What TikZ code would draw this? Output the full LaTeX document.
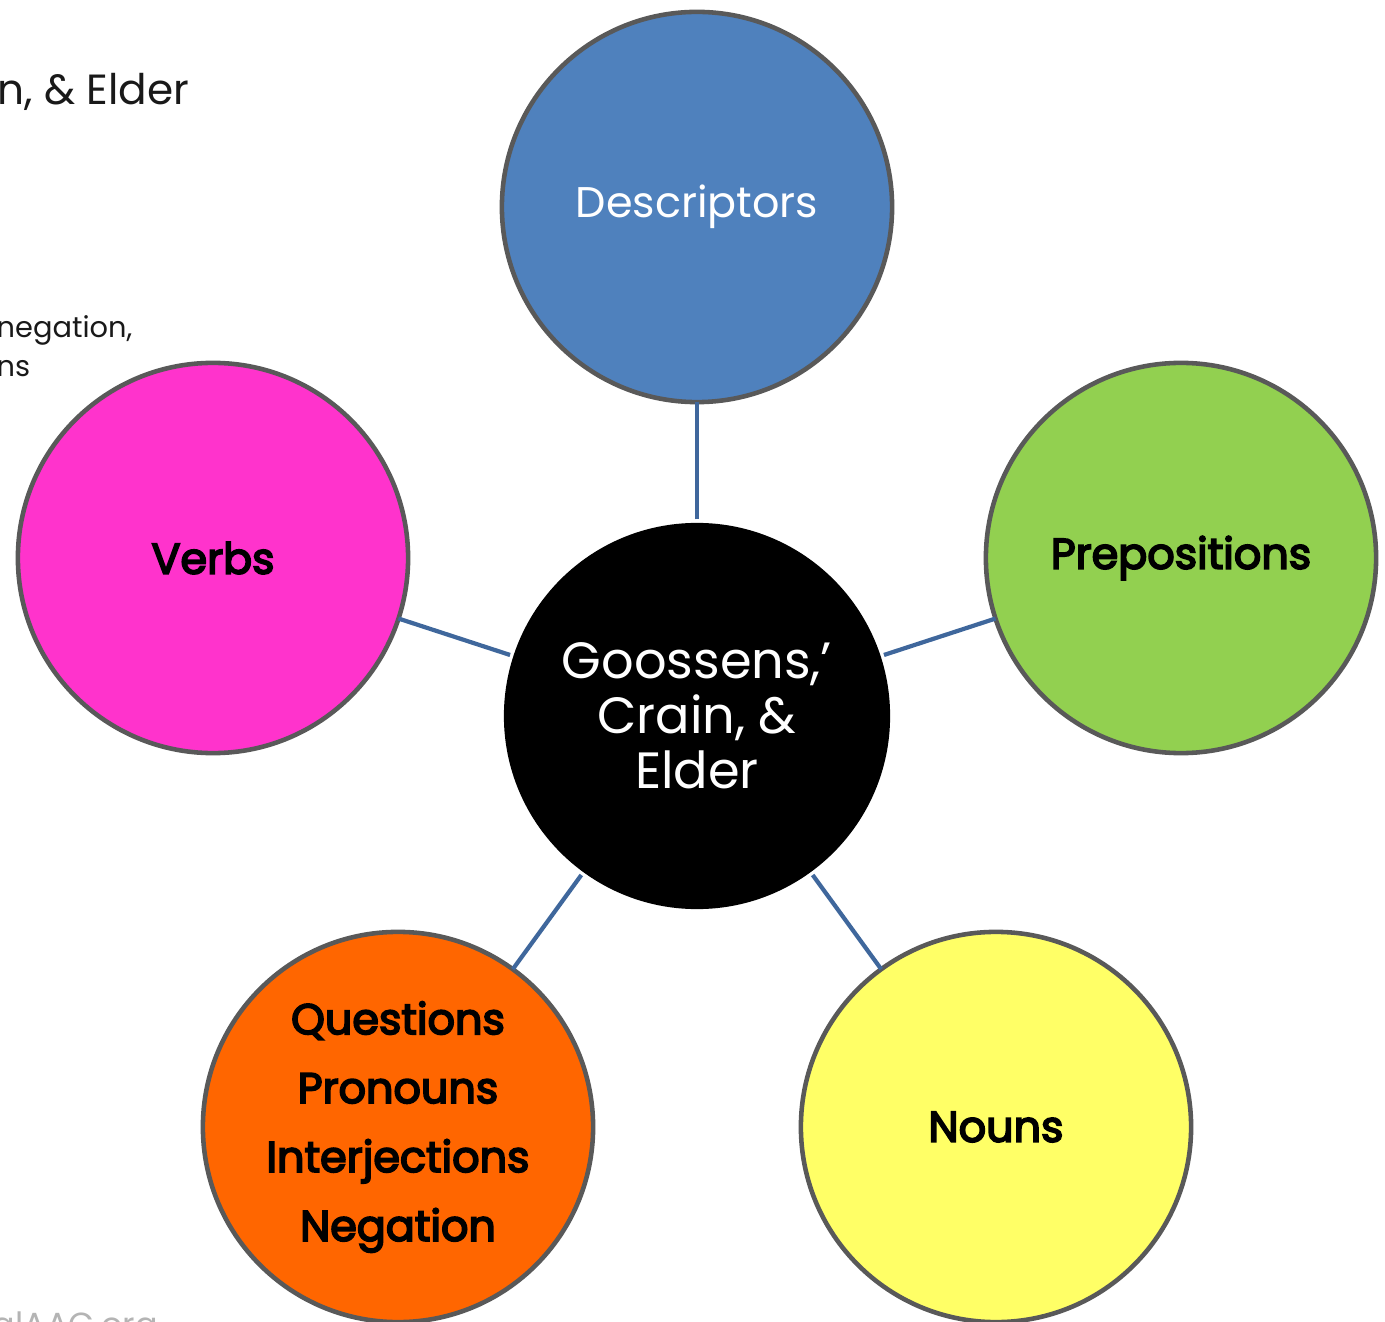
\documentclass[tikz,border=0pt]{standalone}
\usepackage{fontspec}
\setmainfont{Poppins}
\usepackage{xcolor}
\usetikzlibrary{positioning}
\definecolor{ringgrey}{HTML}{595959}
\definecolor{linkblue}{HTML}{3F679C}
\definecolor{descblue}{HTML}{4F81BD}
\definecolor{verbpink}{HTML}{FF33CC}
\definecolor{prepgreen}{HTML}{92D050}
\definecolor{questorange}{HTML}{FF6600}
\definecolor{nounyellow}{HTML}{FFFF66}
\definecolor{fadegrey}{HTML}{B4B4B4}
\newcommand\heavytext[1]{\special{pdf:code 0 0 0 RG 2 Tr 0.5 w}#1\special{pdf:code 0 Tr}}

\begin{document}
\begin{tikzpicture}[x=0.01cm,y=-0.01cm,
        bubble/.style={circle,draw=ringgrey,line width=1.3pt,minimum size=3.9cm,inner sep=0pt,outer sep=0pt,align=center,font=\fontsize{12.2}{19.6}\selectfont},
        hub/.style={circle,fill=black,minimum size=3.86cm,inner sep=0pt,outer sep=0pt,align=center,text=white,font=\fontsize{14.5}{15.6}\selectfont},
        link/.style={draw=linkblue,line width=1.2pt,shorten <=1pt}]
        \useasboundingbox (0,0) rectangle (1385,1322);
        \clip (0,0) rectangle (1385,1322);

        % bits of the slide behind
        \node[anchor=base west,inner sep=0pt,text=black!90,font=\fontsize{12}{12}\selectfont] (title) at (-3,105) {n, \& Elder};
        \node[anchor=base west,inner sep=0pt,text=black!90,font=\fontsize{8.2}{8.2}\selectfont] (notes) at (-4,338) {negation,};
        \node[anchor=base west,inner sep=0pt,text=black!90,font=\fontsize{8.2}{8.2}\selectfont] (notes2) at (-4,377) {ns};
        \node[anchor=base west,inner sep=0pt,text=fadegrey,font=\fontsize{9.5}{9.5}\selectfont] (site) at (-8,1336) {alAAC.org};

        \node[hub] (gce) at (697,716) {Goossens,’\\Crain, \&\\Elder};

        \node[bubble,fill=descblue,text=white] (desc) at (697,207) {Descriptors};
        \node[bubble,fill=verbpink] (verbs) at (213,558) {\heavytext{Verbs}};
        \node[bubble,fill=prepgreen] (preps) at (1181,558) {\heavytext{Prepositions}};
        \node[bubble,fill=questorange] (quest) at (398,1127) {};
        \node[align=center,inner sep=0pt,font=\fontsize{12.2}{19.6}\selectfont] (questtext) at (quest) {\heavytext{Questions}\\\heavytext{Pronouns}\\\heavytext{Interjections}\\\heavytext{Negation}};
        \node[bubble,fill=nounyellow] (nouns) at (996,1127) {\heavytext{Nouns}};

        \foreach \b in {desc,verbs,preps,quest,nouns}
            \draw[link] (gce) -- (\b);
\end{tikzpicture}
\end{document}
